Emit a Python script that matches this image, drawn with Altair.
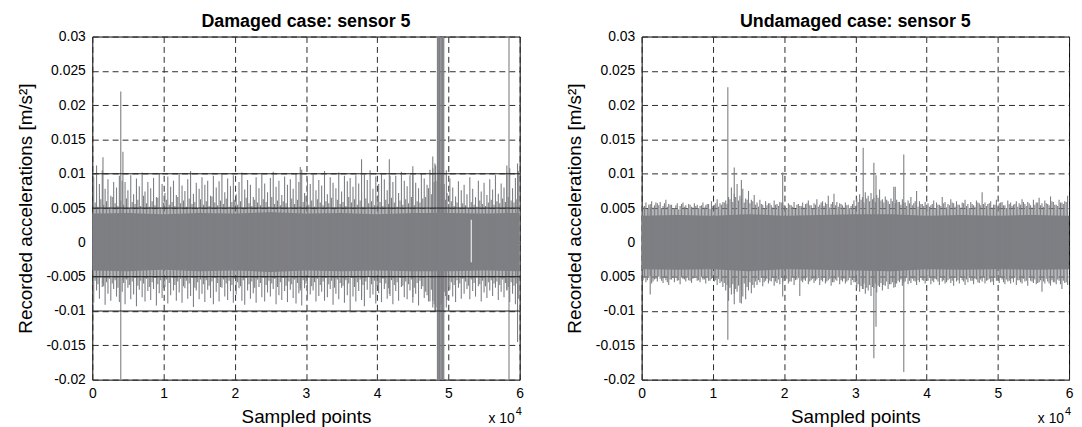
import altair as alt
import pandas as pd

# ---------------- data ----------------
# Column envelopes: one column every 400 sampled points, centred at 200, 600, ..., 59800
COL_START, COL_STEP = 200, 400

dam_hi = [
    0.0095, 0.0112, 0.0085, 0.0105, 0.0078, 0.0092, 0.0068, 0.0088, 0.0080, 0.0097,
    0.0090, 0.0088, 0.0076, 0.0098, 0.0070, 0.0093, 0.0082, 0.0102, 0.0074, 0.0088,
    0.0079, 0.0094, 0.0066, 0.0101, 0.0085, 0.0072, 0.0096, 0.0081, 0.0090, 0.0069,
    0.0099, 0.0083, 0.0075, 0.0092, 0.0104, 0.0071, 0.0087, 0.0078, 0.0095, 0.0084,
    0.0090, 0.0068, 0.0097, 0.0080, 0.0089, 0.0101, 0.0073, 0.0093, 0.0082, 0.0098,
    0.0070, 0.0088, 0.0102, 0.0077, 0.0091, 0.0084, 0.0066, 0.0095, 0.0079, 0.0099,
    0.0086, 0.0073, 0.0094, 0.0103, 0.0081, 0.0090, 0.0069, 0.0096, 0.0084, 0.0092,
    0.0078, 0.0100, 0.0088, 0.0106, 0.0072, 0.0093, 0.0085, 0.0099, 0.0076, 0.0091,
    0.0083, 0.0104, 0.0070, 0.0095, 0.0087, 0.0079, 0.0102, 0.0074, 0.0097, 0.0089,
    0.0094, 0.0081, 0.0098, 0.0086, 0.0073, 0.0099, 0.0091, 0.0105, 0.0078, 0.0096,
    0.0085, 0.0101, 0.0092, 0.0076, 0.0097, 0.0088, 0.0097, 0.0072, 0.0103, 0.0090,
    0.0082, 0.0098, 0.0101, 0.0087, 0.0079, 0.0100, 0.0093, 0.0084, 0.0106, 0.0108,
    0.0112, 0.0105, 0.0098, 0.0085, 0.0072, 0.0093, 0.0080, 0.0067, 0.0089, 0.0076,
    0.0084, 0.0070, 0.0095, 0.0078, 0.0066, 0.0090, 0.0074, 0.0087, 0.0069, 0.0092,
    0.0077, 0.0098, 0.0071, 0.0086, 0.0080, 0.0102, 0.0108, 0.0079, 0.0094, 0.0104,
]
dam_lo = [
    -0.0088, -0.0070, -0.0082, -0.0065, -0.0091, -0.0075, -0.0085, -0.0068, -0.0079, -0.0087,
    -0.0072, -0.0090, -0.0066, -0.0083, -0.0076, -0.0093, -0.0069, -0.0080, -0.0086, -0.0071,
    -0.0084, -0.0068, -0.0092, -0.0074, -0.0081, -0.0065, -0.0089, -0.0077, -0.0070, -0.0085,
    -0.0073, -0.0088, -0.0067, -0.0082, -0.0078, -0.0094, -0.0070, -0.0083, -0.0075, -0.0087,
    -0.0069, -0.0081, -0.0090, -0.0072, -0.0086, -0.0066, -0.0079, -0.0084, -0.0071, -0.0088,
    -0.0076, -0.0067, -0.0085, -0.0091, -0.0070, -0.0082, -0.0074, -0.0088, -0.0065, -0.0080,
    -0.0086, -0.0073, -0.0079, -0.0068, -0.0090, -0.0077, -0.0084, -0.0071, -0.0087, -0.0069,
    -0.0081, -0.0089, -0.0074, -0.0092, -0.0067, -0.0083, -0.0076, -0.0070, -0.0086, -0.0078,
    -0.0072, -0.0085, -0.0080, -0.0068, -0.0091, -0.0075, -0.0083, -0.0066, -0.0088, -0.0077,
    -0.0102, -0.0079, -0.0086, -0.0071, -0.0084, -0.0093, -0.0069, -0.0081, -0.0076, -0.0089,
    -0.0074, -0.0087, -0.0068, -0.0082, -0.0078, -0.0090, -0.0071, -0.0085, -0.0065, -0.0080,
    -0.0083, -0.0070, -0.0088, -0.0075, -0.0092, -0.0068, -0.0081, -0.0077, -0.0086, -0.0095,
    -0.0100, -0.0098, -0.0090, -0.0072, -0.0084, -0.0069, -0.0079, -0.0087, -0.0066, -0.0082,
    -0.0075, -0.0068, -0.0083, -0.0071, -0.0079, -0.0064, -0.0086, -0.0073, -0.0081, -0.0070,
    -0.0078, -0.0066, -0.0084, -0.0072, -0.0080, -0.0069, -0.0087, -0.0075, -0.0090, -0.0082,
]
und_hi = [
    0.0052, 0.0058, 0.0055, 0.0060, 0.0054, 0.0057, 0.0059, 0.0053, 0.0062, 0.0056,
    0.0055, 0.0050, 0.0057, 0.0053, 0.0058, 0.0054, 0.0056, 0.0052, 0.0057, 0.0055,
    0.0053, 0.0058, 0.0054, 0.0056, 0.0060, 0.0055, 0.0063, 0.0057, 0.0059, 0.0061,
    0.0066, 0.0080, 0.0071, 0.0085, 0.0068, 0.0078, 0.0064, 0.0075, 0.0062, 0.0069,
    0.0058, 0.0062, 0.0055, 0.0060, 0.0057, 0.0054, 0.0061, 0.0056, 0.0059, 0.0058,
    0.0052, 0.0057, 0.0054, 0.0059, 0.0055, 0.0053, 0.0058, 0.0056, 0.0061, 0.0054,
    0.0057, 0.0063, 0.0055, 0.0060, 0.0058, 0.0068, 0.0056, 0.0071, 0.0059, 0.0057,
    0.0054, 0.0058, 0.0055, 0.0053, 0.0061, 0.0064, 0.0070, 0.0066, 0.0073, 0.0068,
    0.0072, 0.0065, 0.0069, 0.0077, 0.0063, 0.0067, 0.0060, 0.0064, 0.0081, 0.0062,
    0.0059, 0.0063, 0.0058, 0.0061, 0.0066, 0.0057, 0.0075, 0.0060, 0.0056, 0.0059,
    0.0057, 0.0054, 0.0061, 0.0058, 0.0055, 0.0066, 0.0059, 0.0056, 0.0063, 0.0057,
    0.0060, 0.0055, 0.0058, 0.0062, 0.0056, 0.0059, 0.0054, 0.0061, 0.0057, 0.0073,
    0.0058, 0.0056, 0.0060, 0.0055, 0.0062, 0.0057, 0.0059, 0.0054, 0.0061, 0.0058,
    0.0055, 0.0060, 0.0057, 0.0063, 0.0056, 0.0059, 0.0054, 0.0062, 0.0058, 0.0065,
    0.0057, 0.0061, 0.0056, 0.0067, 0.0059, 0.0055, 0.0062, 0.0058, 0.0060, 0.0068,
]
und_lo = [
    -0.0055, -0.0058, -0.0052, -0.0060, -0.0054, -0.0057, -0.0053, -0.0059, -0.0055, -0.0062,
    -0.0054, -0.0058, -0.0056, -0.0061, -0.0053, -0.0057, -0.0055, -0.0059, -0.0052, -0.0056,
    -0.0058, -0.0054, -0.0060, -0.0056, -0.0053, -0.0057, -0.0062, -0.0059, -0.0065, -0.0070,
    -0.0085, -0.0076, -0.0090, -0.0072, -0.0088, -0.0079, -0.0083, -0.0070, -0.0074, -0.0066,
    -0.0062, -0.0058, -0.0064, -0.0056, -0.0060, -0.0057, -0.0063, -0.0059, -0.0061, -0.0058,
    -0.0055, -0.0060, -0.0057, -0.0062, -0.0054, -0.0078, -0.0058, -0.0056, -0.0061, -0.0055,
    -0.0059, -0.0054, -0.0062, -0.0057, -0.0060, -0.0055, -0.0063, -0.0058, -0.0056, -0.0061,
    -0.0057, -0.0060, -0.0055, -0.0062, -0.0058, -0.0066, -0.0072, -0.0068, -0.0075, -0.0070,
    -0.0078, -0.0067, -0.0073, -0.0065, -0.0070, -0.0063, -0.0068, -0.0061, -0.0066, -0.0060,
    -0.0058, -0.0063, -0.0057, -0.0061, -0.0059, -0.0056, -0.0062, -0.0058, -0.0055, -0.0060,
    -0.0056, -0.0061, -0.0058, -0.0054, -0.0062, -0.0057, -0.0060, -0.0055, -0.0059, -0.0063,
    -0.0057, -0.0060, -0.0055, -0.0062, -0.0058, -0.0056, -0.0061, -0.0054, -0.0059, -0.0057,
    -0.0060, -0.0055, -0.0058, -0.0062, -0.0056, -0.0059, -0.0054, -0.0061, -0.0057, -0.0060,
    -0.0058, -0.0062, -0.0055, -0.0060, -0.0057, -0.0063, -0.0056, -0.0059, -0.0061, -0.0058,
    -0.0072, -0.0060, -0.0057, -0.0063, -0.0058, -0.0061, -0.0056, -0.0068, -0.0059, -0.0062,
]

# Ragged fringe of the dense band: columns in between, at 400, 800, ..., 59600
FR_START, FR_STEP = 400, 400
dam_fr_hi = [
    0.0058, 0.0052, 0.0063, 0.0055, 0.0060, 0.0051, 0.0066, 0.0057, 0.0053, 0.0061,
    0.0055, 0.0064, 0.0050, 0.0059, 0.0056, 0.0062, 0.0053, 0.0068, 0.0057, 0.0052,
    0.0060, 0.0054, 0.0065, 0.0051, 0.0058, 0.0062, 0.0055, 0.0059, 0.0053, 0.0066,
    0.0057, 0.0061, 0.0052, 0.0064, 0.0056, 0.0059, 0.0050, 0.0063, 0.0055, 0.0060,
    0.0053, 0.0067, 0.0058, 0.0054, 0.0061, 0.0056, 0.0064, 0.0052, 0.0059, 0.0062,
    0.0055, 0.0060, 0.0051, 0.0065, 0.0057, 0.0053, 0.0062, 0.0058, 0.0054, 0.0063,
    0.0059, 0.0052, 0.0066, 0.0056, 0.0061, 0.0054, 0.0060, 0.0057, 0.0050, 0.0064,
    0.0056, 0.0062, 0.0053, 0.0059, 0.0068, 0.0055, 0.0061, 0.0052, 0.0063, 0.0058,
    0.0054, 0.0060, 0.0057, 0.0065, 0.0051, 0.0062, 0.0056, 0.0059, 0.0053, 0.0066,
    0.0058, 0.0063, 0.0055, 0.0061, 0.0052, 0.0064, 0.0057, 0.0060, 0.0054, 0.0067,
    0.0059, 0.0053, 0.0062, 0.0056, 0.0065, 0.0058, 0.0052, 0.0061, 0.0055, 0.0063,
    0.0057, 0.0066, 0.0054, 0.0060, 0.0058, 0.0064, 0.0066, 0.0079, 0.0070, 0.0088,
    0.0090, 0.0085, 0.0078, 0.0062, 0.0056, 0.0060, 0.0053, 0.0058, 0.0051, 0.0057,
    0.0054, 0.0050, 0.0059, 0.0055, 0.0052, 0.0061, 0.0056, 0.0053, 0.0058, 0.0062,
    0.0055, 0.0060, 0.0057, 0.0064, 0.0059, 0.0066, 0.0061, 0.0058, 0.0063,
]
dam_fr_lo = [
    -0.0056, -0.0061, -0.0052, -0.0064, -0.0058, -0.0053, -0.0060, -0.0055, -0.0066, -0.0051,
    -0.0059, -0.0054, -0.0062, -0.0057, -0.0050, -0.0063, -0.0056, -0.0060, -0.0053, -0.0065,
    -0.0058, -0.0052, -0.0061, -0.0055, -0.0067, -0.0054, -0.0059, -0.0051, -0.0062, -0.0057,
    -0.0053, -0.0064, -0.0056, -0.0060, -0.0052, -0.0066, -0.0058, -0.0054, -0.0061, -0.0055,
    -0.0063, -0.0057, -0.0051, -0.0059, -0.0065, -0.0054, -0.0060, -0.0056, -0.0062, -0.0053,
    -0.0058, -0.0064, -0.0055, -0.0052, -0.0061, -0.0057, -0.0066, -0.0054, -0.0059, -0.0050,
    -0.0062, -0.0056, -0.0060, -0.0053, -0.0065, -0.0058, -0.0052, -0.0063, -0.0057, -0.0061,
    -0.0054, -0.0059, -0.0067, -0.0055, -0.0060, -0.0052, -0.0064, -0.0058, -0.0053, -0.0062,
    -0.0057, -0.0051, -0.0061, -0.0056, -0.0066, -0.0054, -0.0059, -0.0063, -0.0055, -0.0060,
    -0.0052, -0.0065, -0.0058, -0.0054, -0.0062, -0.0057, -0.0050, -0.0061, -0.0056, -0.0064,
    -0.0059, -0.0053, -0.0060, -0.0067, -0.0055, -0.0062, -0.0058, -0.0052, -0.0063, -0.0057,
    -0.0061, -0.0054, -0.0066, -0.0059, -0.0056, -0.0064, -0.0072, -0.0086, -0.0069, -0.0090,
    -0.0095, -0.0092, -0.0085, -0.0078, -0.0065, -0.0058, -0.0062, -0.0055, -0.0060, -0.0053,
    -0.0057, -0.0063, -0.0054, -0.0059, -0.0052, -0.0061, -0.0056, -0.0064, -0.0058, -0.0055,
    -0.0060, -0.0057, -0.0062, -0.0054, -0.0059, -0.0065, -0.0058, -0.0063, -0.0060,
]
und_fr_hi = [
    0.0053, 0.0049, 0.0056, 0.0051, 0.0058, 0.0054, 0.0050, 0.0057, 0.0052, 0.0055,
    0.0050, 0.0054, 0.0048, 0.0056, 0.0052, 0.0049, 0.0055, 0.0051, 0.0053, 0.0050,
    0.0054, 0.0051, 0.0056, 0.0049, 0.0053, 0.0057, 0.0052, 0.0055, 0.0058, 0.0056,
    0.0063, 0.0059, 0.0066, 0.0061, 0.0064, 0.0058, 0.0062, 0.0057, 0.0060, 0.0055,
    0.0052, 0.0056, 0.0050, 0.0054, 0.0057, 0.0051, 0.0055, 0.0053, 0.0058, 0.0054,
    0.0050, 0.0055, 0.0052, 0.0049, 0.0056, 0.0053, 0.0051, 0.0057, 0.0054, 0.0050,
    0.0055, 0.0052, 0.0058, 0.0053, 0.0056, 0.0051, 0.0059, 0.0054, 0.0052, 0.0056,
    0.0051, 0.0054, 0.0050, 0.0056, 0.0053, 0.0059, 0.0062, 0.0058, 0.0064, 0.0060,
    0.0063, 0.0059, 0.0065, 0.0061, 0.0058, 0.0062, 0.0056, 0.0060, 0.0057, 0.0059,
    0.0055, 0.0058, 0.0053, 0.0057, 0.0054, 0.0060, 0.0052, 0.0056, 0.0053, 0.0055,
    0.0052, 0.0056, 0.0050, 0.0055, 0.0053, 0.0057, 0.0051, 0.0054, 0.0058, 0.0052,
    0.0055, 0.0051, 0.0057, 0.0053, 0.0050, 0.0056, 0.0052, 0.0058, 0.0054, 0.0056,
    0.0053, 0.0057, 0.0051, 0.0055, 0.0052, 0.0058, 0.0054, 0.0050, 0.0056, 0.0053,
    0.0056, 0.0052, 0.0055, 0.0059, 0.0053, 0.0057, 0.0051, 0.0055, 0.0058, 0.0054,
    0.0052, 0.0057, 0.0054, 0.0060, 0.0055, 0.0053, 0.0058, 0.0056, 0.0059,
]
und_fr_lo = [
    -0.0051, -0.0055, -0.0049, -0.0057, -0.0053, -0.0050, -0.0056, -0.0052, -0.0058, -0.0054,
    -0.0052, -0.0049, -0.0055, -0.0051, -0.0054, -0.0050, -0.0056, -0.0053, -0.0049, -0.0055,
    -0.0050, -0.0054, -0.0052, -0.0056, -0.0051, -0.0055, -0.0053, -0.0057, -0.0059, -0.0062,
    -0.0066, -0.0061, -0.0068, -0.0063, -0.0070, -0.0060, -0.0065, -0.0058, -0.0062, -0.0057,
    -0.0055, -0.0052, -0.0058, -0.0053, -0.0056, -0.0051, -0.0057, -0.0054, -0.0052, -0.0056,
    -0.0053, -0.0057, -0.0050, -0.0055, -0.0052, -0.0056, -0.0054, -0.0051, -0.0057, -0.0053,
    -0.0056, -0.0052, -0.0055, -0.0050, -0.0057, -0.0053, -0.0058, -0.0054, -0.0051, -0.0055,
    -0.0053, -0.0057, -0.0052, -0.0055, -0.0058, -0.0061, -0.0064, -0.0060, -0.0066, -0.0062,
    -0.0065, -0.0060, -0.0063, -0.0059, -0.0062, -0.0057, -0.0061, -0.0058, -0.0060, -0.0056,
    -0.0054, -0.0058, -0.0052, -0.0056, -0.0053, -0.0057, -0.0055, -0.0051, -0.0056, -0.0054,
    -0.0052, -0.0056, -0.0053, -0.0057, -0.0051, -0.0055, -0.0058, -0.0053, -0.0056, -0.0052,
    -0.0055, -0.0051, -0.0057, -0.0054, -0.0052, -0.0056, -0.0053, -0.0058, -0.0054, -0.0050,
    -0.0056, -0.0053, -0.0057, -0.0052, -0.0055, -0.0051, -0.0058, -0.0054, -0.0056, -0.0053,
    -0.0051, -0.0055, -0.0058, -0.0053, -0.0056, -0.0052, -0.0057, -0.0054, -0.0059, -0.0055,
    -0.0057, -0.0053, -0.0060, -0.0055, -0.0058, -0.0054, -0.0061, -0.0056, -0.0058,
]

# Solid core of the signal (knots every 5000 sampled points)
core_x = [0, 5000, 10000, 15000, 20000, 25000, 30000, 35000, 40000, 45000, 50000, 55000, 60000]
dam_core_hi = [0.0042, 0.0043, 0.0041, 0.0043, 0.0042, 0.0044, 0.0042, 0.0043, 0.0041, 0.0043, 0.0043, 0.0042, 0.0043]
dam_core_lo = [-0.0041, -0.0042, -0.0040, -0.0042, -0.0041, -0.0043, -0.0041, -0.0042, -0.0041, -0.0042, -0.0042, -0.0041, -0.0042]
und_core_hi = [0.0039, 0.0040, 0.0039, 0.0041, 0.0039, 0.0040, 0.0041, 0.0041, 0.0039, 0.0040, 0.0039, 0.0040, 0.0039]
und_core_lo = [-0.0039, -0.0040, -0.0039, -0.0042, -0.0039, -0.0040, -0.0041, -0.0042, -0.0039, -0.0040, -0.0039, -0.0040, -0.0039]

# Isolated events (sampled point, max, min); values beyond the axis are clipped
dam_spk_x = [1500, 4000, 4300, 29200, 37800, 41700, 45000, 47800, 48100,
             48450, 48550, 48650, 48750, 48850, 49050, 49150, 49250, 49350,
             49700, 58200, 58500, 59700]
dam_spk_hi = [0.0124, 0.0220, 0.0132, 0.0110, 0.0121, 0.0121, 0.0111, 0.0125, 0.0115,
              0.035, 0.035, 0.035, 0.035, 0.035, 0.035, 0.035, 0.035, 0.035,
              0.0105, 0.0112, 0.035, 0.0115]
dam_spk_lo = [-0.0060, -0.025, -0.0055, -0.0070, -0.0080, -0.0075, -0.0080, -0.0085, -0.0100,
              -0.025, -0.025, -0.025, -0.025, -0.025, -0.025, -0.025, -0.025, -0.025,
              -0.0095, -0.0070, -0.025, -0.0145]
# short drop-out (white) in the damaged record
dam_gap_x = [53200]
dam_gap_hi = [0.0033]
dam_gap_lo = [-0.0029]

und_spk_x = [1200, 12100, 13000, 14000, 19800, 31100, 32600, 32900, 35600, 36800]
und_spk_hi = [0.0052, 0.0226, 0.0109, 0.0091, 0.0102, 0.0138, 0.0116, 0.0098, 0.0081, 0.0128]
und_spk_lo = [-0.0076, -0.0142, -0.0075, -0.0089, -0.0079, -0.0068, -0.0169, -0.0123, -0.0065, -0.0189]

dam_thresholds = [0.01, 0.005, -0.005, -0.01]

x_ticks = [0, 10000, 20000, 30000, 40000, 50000, 60000]
y_ticks = [-0.02, -0.015, -0.01, -0.005, 0.0, 0.005, 0.01, 0.015, 0.02, 0.025, 0.03]

titles = ["Damaged case: sensor 5", "Undamaged case: sensor 5"]
x_mult = ["x 10", "4"]   # the "x 10^4" multiplier of the x axis

# ---------------- styling ----------------
SIG = "#7e7f83"
FONT = "Liberation Sans"
W, H = 431, 346


def cols(hi, lo, start, step):
    return pd.DataFrame({"x": [start + step * i for i in range(len(hi))], "hi": hi, "lo": lo})


def panel(title, main_df, fringe_df, core_df, spk_df, label_expr, gap_df=None, thr=None):
    xenc = alt.X("x:Q", scale=alt.Scale(domain=[0, 60000], nice=False, zero=False),
                 axis=alt.Axis(values=x_ticks, title="Sampled points",
                               labelExpr="format(datum.value / 10000, '~g')"))
    yenc = alt.Y("hi:Q", scale=alt.Scale(domain=[-0.02, 0.03], nice=False, zero=False),
                 axis=alt.Axis(values=y_ticks, title="Recorded accelerations [m/s²]",
                               labelExpr=label_expr))
    y2 = alt.Y2("lo:Q")
    layers = [
        alt.Chart(core_df).mark_area(color=SIG, opacity=1).encode(x=xenc, y=yenc, y2=y2),
        alt.Chart(fringe_df).mark_rule(color=SIG, strokeWidth=1.1).encode(x=xenc, y=yenc, y2=y2),
        alt.Chart(main_df).mark_rule(color=SIG, strokeWidth=1.1).encode(x=xenc, y=yenc, y2=y2),
        alt.Chart(spk_df).mark_rule(color=SIG, strokeWidth=1.1, clip=True).encode(x=xenc, y=yenc, y2=y2),
    ]
    if gap_df is not None:
        layers.append(alt.Chart(gap_df).mark_rule(color="white", strokeWidth=1).encode(x=xenc, y=yenc, y2=y2))
    if thr is not None:
        layers.append(alt.Chart(pd.DataFrame({"hi": thr})).mark_rule(color="#1a1a1a", strokeWidth=1)
                      .encode(y=yenc))
    # "x 10^4" multiplier under the right end of the axis
    layers.append(alt.Chart(pd.DataFrame({"t": [x_mult[0]]})).mark_text(
        font=FONT, fontSize=14, color="black", align="right", baseline="alphabetic")
        .encode(text="t:N", x=alt.value(W - 5), y=alt.value(H + 44)))
    layers.append(alt.Chart(pd.DataFrame({"t": [x_mult[1]]})).mark_text(
        font=FONT, fontSize=11, color="black", align="left", baseline="alphabetic")
        .encode(text="t:N", x=alt.value(W - 4), y=alt.value(H + 36)))
    # panel title
    layers.append(alt.Chart(pd.DataFrame({"t": [title]})).mark_text(
        font=FONT, fontSize=18, fontWeight="bold", color="black", align="center",
        baseline="alphabetic")
        .encode(text="t:N", x=alt.value(W / 2), y=alt.value(-10)))
    return alt.layer(*layers).properties(width=W, height=H)


left_expr = "datum.value < 0 ? '-' + format(-datum.value, '~g') : format(datum.value, '~g')"
right_expr = ("datum.value < -0.006 ? '-' + format(-datum.value, '~g') : "
              "format(abs(datum.value), '~g')")

left = panel(titles[0],
             cols(dam_hi, dam_lo, COL_START, COL_STEP),
             cols(dam_fr_hi, dam_fr_lo, FR_START, FR_STEP),
             pd.DataFrame({"x": core_x, "hi": dam_core_hi, "lo": dam_core_lo}),
             pd.DataFrame({"x": dam_spk_x, "hi": dam_spk_hi, "lo": dam_spk_lo}),
             left_expr,
             gap_df=pd.DataFrame({"x": dam_gap_x, "hi": dam_gap_hi, "lo": dam_gap_lo}),
             thr=dam_thresholds)
right = panel(titles[1],
              cols(und_hi, und_lo, COL_START, COL_STEP),
              cols(und_fr_hi, und_fr_lo, FR_START, FR_STEP),
              pd.DataFrame({"x": core_x, "hi": und_core_hi, "lo": und_core_lo}),
              pd.DataFrame({"x": und_spk_x, "hi": und_spk_hi, "lo": und_spk_lo}),
              right_expr)

chart = (
    alt.hconcat(left, right, spacing=40)
    .properties(padding={"left": 7, "top": 2, "right": 0, "bottom": 0})
    .configure_axis(labelFont=FONT, labelFontSize=14, labelColor="black",
                    titleFont=FONT, titleFontSize=19, titleFontWeight="normal", titleColor="black",
                    grid=True, gridColor="#2a2a2a", gridDash=[6, 4], gridWidth=1,
                    domain=False, ticks=False, labelPadding=7, labelFlush=False,
                    labelOverlap=False, zindex=1)
    .configure_axisY(titlePadding=11)
    .configure_axisX(titlePadding=7)
    .configure_view(stroke="black", strokeWidth=1)
)

chart.save("out.html", embed_options={"renderer": "svg", "actions": False})
